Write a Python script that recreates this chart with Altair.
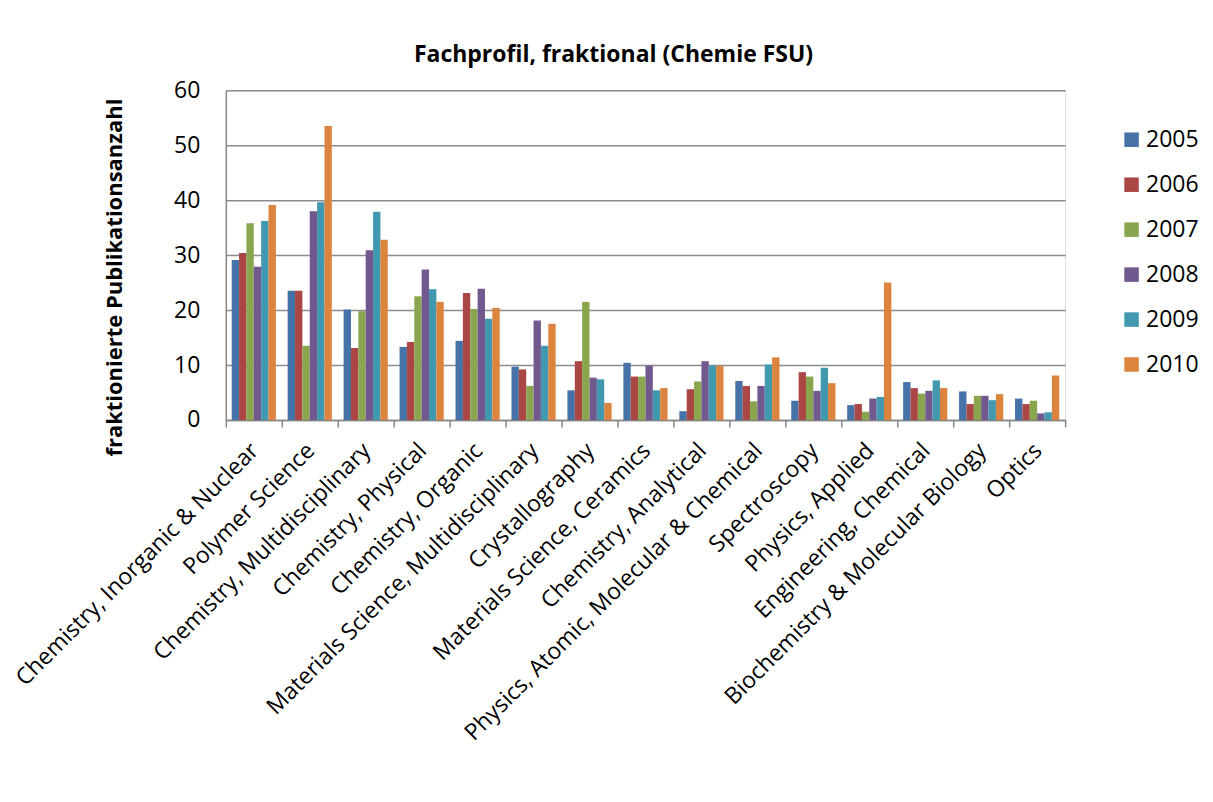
import altair as alt
import pandas as pd

categories = [
    "Chemistry, Inorganic & Nuclear",
    "Polymer Science",
    "Chemistry, Multidisciplinary",
    "Chemistry, Physical",
    "Chemistry, Organic",
    "Materials Science, Multidisciplinary",
    "Crystallography",
    "Materials Science, Ceramics",
    "Chemistry, Analytical",
    "Physics, Atomic, Molecular & Chemical",
    "Spectroscopy",
    "Physics, Applied",
    "Engineering, Chemical",
    "Biochemistry & Molecular Biology",
    "Optics",
]
years = ["2005", "2006", "2007", "2008", "2009", "2010"]

v2005 = [29.1, 23.5, 20.1, 13.3, 14.4, 9.7, 5.4, 10.4, 1.6, 7.1, 3.5, 2.7, 6.9, 5.2, 3.9]
v2006 = [30.4, 23.5, 13.1, 14.2, 23.1, 9.2, 10.7, 7.9, 5.6, 6.2, 8.7, 2.9, 5.8, 2.9, 2.9]
v2007 = [35.8, 13.5, 19.8, 22.5, 20.2, 6.2, 21.5, 7.9, 7.0, 3.4, 7.9, 1.5, 4.8, 4.4, 3.5]
v2008 = [27.9, 38.0, 30.9, 27.4, 23.9, 18.1, 7.7, 9.9, 10.7, 6.2, 5.3, 3.9, 5.3, 4.4, 1.2]
v2009 = [36.2, 39.6, 37.9, 23.8, 18.4, 13.5, 7.4, 5.4, 9.9, 10.1, 9.5, 4.2, 7.2, 3.6, 1.4]
v2010 = [39.1, 53.5, 32.8, 21.5, 20.4, 17.5, 3.1, 5.8, 9.8, 11.4, 6.7, 25.0, 5.8, 4.7, 8.1]

colors = ["#4572A7", "#AA4643", "#89A54E", "#71588F", "#4198AF", "#DB843D"]

series = [v2005, v2006, v2007, v2008, v2009, v2010]
rows = []
for y, vals in zip(years, series):
    for c, v in zip(categories, vals):
        rows.append({"Fach": c, "Jahr": y, "Wert": v})
df = pd.DataFrame(rows)

FONT = "Open Sans"
FS = 23

chart = alt.Chart(df).mark_bar().encode(
    x=alt.X(
        "Fach:N",
        sort=categories,
        scale=alt.Scale(paddingInner=0, paddingOuter=0),
        axis=alt.Axis(
            title=None,
            labelAngle=-45,
            labelFontSize=FS,
            labelFont=FONT,
            labelColor="#000000",
            labelLimit=0,
            labelPadding=12,
            labelOffset=-7,
            tickBand="extent",
            ticks=True,
            tickSize=7,
            tickColor="#878787",
            tickWidth=1.5,
            domainColor="#878787",
            domainWidth=1.5,
            grid=False,
        ),
    ),
    xOffset=alt.XOffset(
        "Jahr:N",
        sort=years,
        scale=alt.Scale(paddingInner=0, paddingOuter=0.8),
    ),
    y=alt.Y(
        "Wert:Q",
        scale=alt.Scale(domain=[0, 60], nice=False),
        axis=alt.Axis(
            title="fraktionierte Publikationsanzahl",
            titleFont=FONT,
            titleFontSize=22,
            titleFontWeight="bold",
            titleColor="#000000",
            titleX=-99,
            titleY=187,
            values=[0, 10, 20, 30, 40, 50, 60],
            labelFontSize=FS,
            labelFont=FONT,
            labelColor="#000000",
            labelPadding=26,
            ticks=False,
            domainColor="#878787",
            domainWidth=1.5,
            gridColor="#8c8c8c",
            gridWidth=1.5,
        ),
    ),
    color=alt.Color(
        "Jahr:N",
        sort=years,
        scale=alt.Scale(domain=years, range=colors),
        legend=alt.Legend(
            title=None,
            orient="none",
            legendX=895,
            legendY=38,
            symbolType="square",
            symbolSize=210,
            symbolStrokeWidth=0,
            labelFontSize=FS,
            labelFont=FONT,
            labelColor="#000000",
            labelOffset=3,
            rowPadding=21,
        ),
    ),
).properties(
    width=840,
    height=330,
    title=alt.TitleParams(
        "Fachprofil, fraktional (Chemie FSU)",
        font=FONT,
        fontSize=23,
        fontWeight="bold",
        color="#000000",
        anchor="middle",
        dx=-32,
        offset=12,
    ),
    autosize=alt.AutoSizeParams(type="none"),
    padding={"left": 218, "top": 82, "right": 140, "bottom": 380},
).configure_view(stroke=None).configure(background="white")

chart.save("out.html", embed_options={"renderer": "svg", "actions": False})
